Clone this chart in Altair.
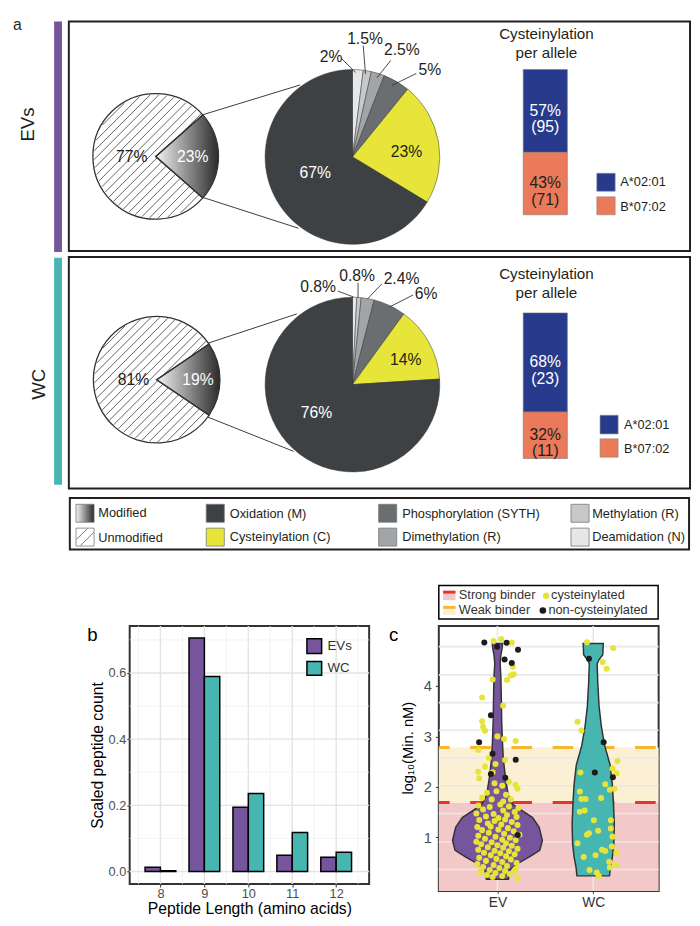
import math
import altair as alt
import pandas as pd

FONT = "Liberation Sans"
INK = "#231f20"

# ------------------------------------------------------------------ data
groups = ["EVs", "WC"]
group_colors = ["#77559c", "#47b5b0"]

modified_pct = [23, 19]
unmodified_pct = [77, 81]
part_names = ["Modified", "Unmodified"]

mod_names = ["Deamidation (N)", "Methylation (R)", "Dimethylation (R)",
             "Phosphorylation (SYTH)", "Cysteinylation (C)", "Oxidation (M)"]
mod_colors = ["#e6e7e8", "#c6c8ca", "#a2a5a8", "#6b6e71", "#e8e53a", "#3e4144"]
mod_pct_ev = [2, 1.5, 2.5, 5, 23, 67]
mod_pct_wc = [0.8, 0.8, 2.4, 6, 14, 76]

alleles = ["A*02:01", "B*07:02"]
allele_colors = ["#283a8c", "#ea7a59"]
allele_pct_ev = [57, 43]
allele_n_ev = [95, 71]
allele_pct_wc = [68, 32]
allele_n_wc = [23, 11]

lengths = [8, 9, 10, 11, 12]
scaled_ev = [0.013, 0.706, 0.194, 0.049, 0.043]
scaled_wc = [0.002, 0.589, 0.236, 0.118, 0.058]
b_y_major = [0.0, 0.2, 0.4, 0.6]
b_y_minor = [0.1, 0.3, 0.5, 0.7]
b_x_minor = [7.5, 8.5, 9.5, 10.5, 11.5, 12.5]

violin_groups = ["EV", "WC"]
binder_labels = ["Strong binder", "Weak binder"]
binder_cut = [1.69, 2.78]
binder_colors = ["#e8332f", "#f6b62d"]
band_colors = ["#f3c8c8", "#fbf0d3"]
point_labels = ["cysteinylated", "non-cysteinylated"]
point_colors = ["#e6e43a", "#1c1c1c"]
c_y_ticks = [1, 2, 3, 4]
c_grid = [0.36, 0.91, 1.47, 2.02, 2.57, 3.12, 3.67, 4.22, 4.78]

ev_violin_y = [0.168, 0.349, 0.479, 0.609, 0.739, 0.934, 1.194, 1.388, 1.518, 1.648,
               1.843, 2.168, 2.558, 2.947, 3.337, 3.726, 4.181, 4.44, 4.6, 4.733, 4.843]
ev_violin_hw = [0.115, 0.13, 0.214, 0.334, 0.442, 0.469, 0.436, 0.367, 0.265, 0.163,
                0.112, 0.085, 0.061, 0.051, 0.044, 0.041, 0.036, 0.028, 0.035, 0.048, 0.054]
wc_violin_y = [0.233, 0.414, 0.609, 0.869, 1.258, 1.648, 2.04, 2.43, 2.82, 3.2,
               3.6, 4.05, 4.44, 4.52, 4.62, 4.843]
wc_violin_hw = [0.17, 0.18, 0.2, 0.215, 0.22, 0.212, 0.2, 0.177, 0.119, 0.085,
                0.061, 0.048, 0.041, 0.06, 0.1, 0.105]

ev_non_dx = [-0.137, -0.003, 0.096, 0.215, 0.075, 0.150, -0.068, -0.191, -0.051, -0.068, 0.082, 0.191, 0.212]
ev_non_y = [4.863, 4.779, 4.857, 4.720, 4.525, 4.454, 3.421, 2.882, 2.655, 2.252, 2.180, 2.538, 1.044]
wc_non_dx = [-0.044, 0.109, 0.017, 0.205]
wc_non_y = [4.538, 2.882, 2.285, 2.188]

ev_cys_dx = [-0.04, 0.04, 0.15, 0.16, 0.14, 0.17, 0.10, -0.05, -0.16, 0.06, -0.16, -0.15, -0.13, 0.00, 0.07,
             0.19, -0.20, -0.09, 0.08, -0.13, -0.20, -0.19, -0.03, 0.05, 0.19, 0.21, -0.11, -0.01, 0.09, -0.16,
             -0.06, 0.06, 0.14, -0.02, -0.05, 0.12,
             -0.20, -0.08, 0.03, 0.12, 0.22, -0.15, 0.06, 0.18, -0.22, -0.04, 0.10, -0.12, 0.01, 0.20, -0.19,
             -0.03, 0.08, 0.15, -0.10, 0.04, 0.21, -0.21, -0.07, 0.11, -0.16, 0.01, 0.17, -0.09, 0.07, 0.23,
             -0.20, -0.02, 0.13, -0.13, 0.05, 0.19, -0.22, -0.06, 0.09, -0.17, 0.00, 0.15, -0.10, 0.06, 0.21,
             -0.20, -0.03, 0.12, -0.14, 0.03, 0.18, -0.07, 0.09, -0.19, -0.01, 0.14, -0.12, 0.05, 0.20, -0.21,
             -0.04, 0.10, -0.15, 0.02, 0.19, -0.08, 0.08, -0.18, -0.02, 0.13, -0.11, 0.05, -0.05, 0.21, 0.18]
ev_cys_y = [4.89, 4.93, 4.86, 4.38, 4.21, 4.23, 4.12, 4.13, 3.77, 3.61, 3.30, 3.19, 3.11, 3.00, 2.95,
            2.91, 2.73, 2.57, 2.53, 2.40, 2.30, 2.17, 2.07, 2.02, 2.04, 1.96, 1.88, 1.91, 1.84, 1.78,
            1.75, 1.71, 1.75, 2.45, 2.29, 2.10,
            1.63, 1.60, 1.65, 1.61, 1.58, 1.55, 1.53, 1.50, 1.47, 1.46, 1.44, 1.41, 1.38, 1.40, 1.34,
            1.32, 1.35, 1.30, 1.27, 1.25, 1.24, 1.20, 1.21, 1.18, 1.14, 1.15, 1.12, 1.09, 1.07, 1.05,
            1.03, 1.01, 0.99, 0.97, 0.95, 0.94, 0.91, 0.90, 0.88, 0.86, 0.84, 0.83, 0.80, 0.79, 0.77,
            0.75, 0.73, 0.72, 0.69, 0.68, 0.66, 0.64, 0.62, 0.59, 0.57, 0.56, 0.53, 0.51, 0.49, 0.47,
            0.45, 0.43, 0.41, 0.39, 0.37, 0.35, 0.33, 0.31, 0.29, 0.27, 0.25, 0.23, 0.21, 0.18, 0.34]

wc_cys_dx = [-0.065, 0.208, 0.099, 0.140, -0.164, -0.123, 0.253, -0.133, 0.201, 0.242, 0.126, 0.174, 0.222,
             -0.140, -0.123, -0.079, 0.082, -0.140, -0.089, 0.007, 0.184, 0.184, -0.044, -0.065, 0.051,
             0.201, -0.164, 0.195, 0.092, 0.126, 0.242, 0.024, -0.099, 0.167, 0.236, 0.174, -0.038, 0.038, 0.058]
wc_cys_y = [4.869, 4.752, 4.473, 4.343, 3.291, 3.115, 2.512, 2.285, 2.363, 2.266, 2.051, 1.940, 1.960,
            1.907, 1.759, 1.759, 1.779, 1.506, 1.531, 1.336, 1.336, 1.174, 1.077, 1.050, 1.128,
            1.011, 0.882, 0.817, 0.752, 0.726, 0.687, 0.641, 0.609, 0.512, 0.446, 0.401, 0.349, 0.297, 0.232]

# ------------------------------------------------------------------ helpers
one = pd.DataFrame({"k": [0]})
GRAD = {"gradient": "linear", "x1": 0, "y1": 0, "x2": 1, "y2": 0,
        "stops": [{"offset": 0, "color": "#f4f4f4"}, {"offset": 1, "color": "#2a2a2a"}]}


def txt(s, x, y, size=16, color=INK, align="center", baseline="middle", angle=0):
    return alt.Chart(one).mark_text(text=s, font=FONT, fontSize=size, color=color, align=align,
                                    baseline=baseline, angle=angle).encode(x=alt.value(x), y=alt.value(y))


def box(x, x2, y, y2, fill="transparent", stroke="transparent", sw=1):
    return alt.Chart(one).mark_rect(fill=fill, stroke=stroke, strokeWidth=sw).encode(
        x=alt.value(x), x2=alt.value(x2), y=alt.value(y), y2=alt.value(y2))


def seg(x, y, x2, y2, color="#3a3a3a", sw=1):
    return alt.Chart(one).mark_rule(color=color, strokeWidth=sw).encode(
        x=alt.value(x), y=alt.value(y), x2=alt.value(x2), y2=alt.value(y2))


def pct(v):
    return f"{v:g}%"


def small_pie(i, cx, cy, r):
    df = pd.DataFrame({"part": part_names, "pct": [modified_pct[i], unmodified_pct[i]], "ord": [0, 1]})
    start = math.pi / 2 - math.pi * modified_pct[i] / 100
    theta = alt.Theta("pct:Q", stack=True, scale=alt.Scale(range=[start, start + 2 * math.pi]))
    base = alt.Chart(df).encode(theta=theta, order=alt.Order("ord:Q"), x=alt.value(cx), y=alt.value(cy))
    under = base.mark_arc(radius=r, fill="white")
    hatch = (alt.Chart(alt.sequence(-(r - 3), r - 2, 6.3, as_="d"))
             .transform_calculate(h=f"sqrt({(r - 1) ** 2} - datum.d*datum.d)")
             .transform_calculate(xa=f"{cx} + (datum.d + datum.h)*0.70711",
                                  ya=f"{cy} + (datum.d - datum.h)*0.70711",
                                  xb=f"{cx} + (datum.d - datum.h)*0.70711",
                                  yb=f"{cy} + (datum.d + datum.h)*0.70711")
             .mark_rule(color="#3a3a3a", strokeWidth=0.8)
             .encode(x=alt.X("xa:Q", scale=None, axis=None), y=alt.Y("ya:Q", scale=None, axis=None),
                     x2=alt.X2("xb:Q"), y2=alt.Y2("yb:Q")))
    top = base.mark_arc(radius=r, stroke="#333333", strokeWidth=1.3).encode(
        fill=alt.condition(f"datum.part == '{part_names[0]}'", alt.value(GRAD), alt.value("transparent")))
    return [under, hatch, top]


def big_pie(vals, cx, cy, r):
    df = pd.DataFrame({"mod": mod_names, "pct": vals, "ord": list(range(len(vals)))})
    return alt.Chart(df).mark_arc(radius=r, stroke="#2f2f2f", strokeWidth=0.5).encode(
        theta=alt.Theta("pct:Q", stack=True),
        color=alt.Color("mod:N", scale=alt.Scale(domain=mod_names, range=mod_colors), legend=None),
        order=alt.Order("ord:Q"), x=alt.value(cx), y=alt.value(cy))


def allele_bar(pcts, ns, x0, x1, ybot, ytop):
    df = pd.DataFrame({"allele": alleles, "pct": pcts, "n": ns, "ord": [1, 0]})
    ysc = alt.Scale(domain=[0, 100], range=[ybot, ytop])
    stacked = (alt.Chart(df)
               .transform_window(cum="sum(pct)", sort=[alt.SortField("ord")])
               .transform_calculate(lo="datum.cum - datum.pct", mid="datum.cum - datum.pct/2")
               .transform_calculate(lbl="datum.pct + '%\\n(' + datum.n + ')'"))
    bar = stacked.mark_rect(stroke="#7a7a7a", strokeWidth=0.6).encode(
        x=alt.value(x0), x2=alt.value(x1),
        y=alt.Y("lo:Q", scale=ysc, axis=None), y2=alt.Y2("cum:Q"),
        color=alt.Color("allele:N", scale=alt.Scale(domain=alleles, range=allele_colors), legend=None))
    lab = stacked.mark_text(font=FONT, fontSize=16, lineBreak="\n", lineHeight=16.5, baseline="middle").encode(
        x=alt.value((x0 + x1) / 2), y=alt.Y("mid:Q", scale=ysc, axis=None), text="lbl:N",
        color=alt.condition(f"datum.allele == '{alleles[0]}'", alt.value("white"), alt.value(INK)))
    return [bar, lab]


# ------------------------------------------------------------------ panel a
A = [txt("a", 1, 0, size=16, align="left", baseline="top")]
A += [box(43, 51, 4, 239, fill=group_colors[0]), box(43, 51, 244.7, 476, fill=group_colors[1])]
A += [txt(groups[0], 17, 109, size=19, angle=270), txt(groups[1], 27.5, 373.7, size=19, angle=270)]
A += [box(58, 691, 4, 238, stroke=INK, sw=2), box(58, 691, 244, 480, stroke=INK, sw=2)]

# EVs row
A += [seg(193.7, 99.3, 293.7, 68.7), seg(193.7, 183, 292, 214.7)]
A += small_pie(0, 146.5, 141.5, 64)
A += [txt(pct(unmodified_pct[0]), 122, 142), txt(pct(modified_pct[0]), 184.2, 142, color="white")]
A.append(big_pie(mod_pct_ev, 347, 142, 89))
for k, (lx, ly, l1, l2, l3, l4) in enumerate([(325.3, 40, 335.3, 41.3, 350.3, 56),
                                               (359.8, 21.5, 358, 28.7, 360.3, 57.7),
                                               (397.3, 33.3, 386, 43.7, 372, 61.3),
                                               (425.8, 53.7, 412, 57, 387, 69.3)]):
    A += [seg(l1, l2, l3, l4, color="#333333", sw=0.9), txt(pct(mod_pct_ev[k]), lx, ly)]
A += [txt(pct(mod_pct_ev[4]), 402, 137), txt(pct(mod_pct_ev[5]), 309, 159, color="white")]
A += [txt("Cysteinylation", 544.7, 16.5, size=15.5), txt("per allele", 544.7, 36, size=15.5)]
A += allele_bar(allele_pct_ev, allele_n_ev, 521, 566, 201, 53)
A += [box(596, 614.7, 158.7, 177, fill=allele_colors[0], stroke="#888888", sw=0.6),
      box(596, 614.7, 182.7, 201, fill=allele_colors[1], stroke="#888888", sw=0.6),
      txt(alleles[0], 620, 168, size=13, align="left"), txt(alleles[1], 620, 193, size=13, align="left")]

# WC row
A += [seg(199.3, 332, 290.3, 302), seg(199.3, 407, 287, 442)]
A += small_pie(1, 147.5, 369, 64.5)
A += [txt(pct(unmodified_pct[1]), 123.8, 369.2), txt(pct(modified_pct[1]), 189.5, 369.2, color="white")]
A.append(big_pie(mod_pct_wc, 347, 374, 89))
for k, (lx, ly, l1, l2, l3, l4) in enumerate([(312, 274.5, 332, 278.7, 348, 284.7),
                                               (351.7, 263.7, 352.7, 270.3, 352.7, 285.3),
                                               (397, 266.2, 377, 271.3, 362, 287),
                                               (422, 282.2, 408.7, 282.7, 385.3, 294.7)]):
    A += [seg(l1, l2, l3, l4, color="#333333", sw=0.9), txt(pct(mod_pct_wc[k]), lx, ly)]
A += [txt(pct(mod_pct_wc[4]), 401.3, 349.3), txt(pct(mod_pct_wc[5]), 310.3, 402.7, color="white")]
A += [txt("Cysteinylation", 544.7, 261.3, size=15.5), txt("per allele", 544.7, 280.3, size=15.5)]
A += allele_bar(allele_pct_wc, allele_n_wc, 521, 566, 449.3, 301)
A += [box(599.3, 617.7, 405.3, 424.3, fill=allele_colors[0], stroke="#888888", sw=0.6),
      box(599.3, 617.7, 429.3, 448, fill=allele_colors[1], stroke="#888888", sw=0.6),
      txt(alleles[0], 623.7, 415.3, size=13, align="left"), txt(alleles[1], 623.7, 439.3, size=13, align="left")]

# modification legend
A.append(box(59, 690, 489.5, 542, fill="white", stroke=INK, sw=2))
col_x = [65.3, 198, 373.7, 569.7]
col_dx = [22.7, 24, 24, 21.6]
row_y = [496, 520.3]
A.append(box(col_x[0], col_x[0] + 18.4, row_y[0], row_y[0] + 18.3, fill=GRAD, stroke="#777777", sw=0.8))
A.append(box(col_x[0], col_x[0] + 18.4, row_y[1], row_y[1] + 18.3, fill="white", stroke="#777777", sw=0.8))
A += [seg(66, 531.5, 77, 520.8, color="#555555", sw=0.8), seg(70, 538, 83.2, 524.8, color="#555555", sw=0.8)]
A += [txt(part_names[0], col_x[0] + col_dx[0], row_y[0] + 9.3, size=13, align="left"),
      txt("Unmodified", col_x[0] + col_dx[0], row_y[1] + 9.8, size=13, align="left")]
legend_order = mod_names[::-1]
legend_cols = mod_colors[::-1]
for i, name in enumerate(legend_order):
    c, r = 1 + i // 2, i % 2
    A.append(box(col_x[c], col_x[c] + 18.4, row_y[r], row_y[r] + 18.3, fill=legend_cols[i], stroke="#777777", sw=0.8))
    A.append(txt(name, col_x[c] + col_dx[c], row_y[r] + 9.5, size=13, align="left"))

panel_a = alt.layer(*A).resolve_scale(x="independent", y="independent", theta="independent",
                                      color="independent").properties(width=684, height=546)

# ------------------------------------------------------------------ panel b
df_b = pd.DataFrame({"length": lengths + lengths, "group": [groups[0]] * 5 + [groups[1]] * 5,
                     "value": scaled_ev + scaled_wc})
BW = 0.35
xs_b = alt.Scale(domain=[7.30, 12.75], nice=False, zero=False)
ys_b = alt.Scale(domain=[-0.038, 0.742], nice=False, zero=False)
ax_bx = alt.Axis(values=lengths, title="Peptide Length (amino acids)", grid=False, domain=False,
                 tickSize=3, tickColor="#333333", labelFontSize=13, labelColor="#4d4d4d", labelPadding=1,
                 titleFontSize=16, titleFontWeight="normal", titleColor="black", titleY=30,
                 titleBaseline="alphabetic")
ax_by = alt.Axis(values=b_y_major, format=".1f", title="Scaled peptide count", grid=False, domain=False,
                 tickSize=3, tickColor="#333333", labelFontSize=13, labelColor="#4d4d4d", labelPadding=1,
                 titleFontSize=16, titleFontWeight="normal", titleColor="black", titleX=-33, titleY=131.5,
                 titleAngle=270, titleAlign="center", titleBaseline="middle")


def XB(f):
    return alt.X(f, scale=xs_b, axis=ax_bx)


def YB(f):
    return alt.Y(f, scale=ys_b, axis=ax_by)


B = [
    alt.Chart(pd.DataFrame({"v": b_x_minor})).mark_rule(color="#efefef", strokeWidth=0.8).encode(x=XB("v:Q")),
    alt.Chart(pd.DataFrame({"v": lengths})).mark_rule(color="#e3e3e3", strokeWidth=1.4).encode(x=XB("v:Q")),
    alt.Chart(pd.DataFrame({"v": b_y_minor})).mark_rule(color="#efefef", strokeWidth=0.8).encode(y=YB("v:Q")),
    alt.Chart(pd.DataFrame({"v": b_y_major})).mark_rule(color="#e3e3e3", strokeWidth=1.4).encode(y=YB("v:Q")),
    alt.Chart(df_b)
    .transform_calculate(x0=f"datum.length + (datum.group == '{groups[0]}' ? -{BW} : 0)")
    .transform_calculate(x1=f"datum.x0 + {BW}")
    .mark_rect(stroke="black", strokeWidth=1.5)
    .encode(x=XB("x0:Q"), x2="x1:Q", y=YB("value:Q"), y2=alt.datum(0),
            color=alt.Color("group:N", scale=alt.Scale(domain=groups, range=group_colors), legend=None)),
    box(180.6, 195.6, 13, 28, fill=group_colors[0], stroke="black", sw=1.5),
    box(180.6, 195.6, 36.3, 50.3, fill=group_colors[1], stroke="black", sw=1.5),
    txt(groups[0], 201.6, 20.7, size=13.5, color="#333333", align="left"),
    txt(groups[1], 201.6, 43.3, size=13.5, color="#333333", align="left"),
    txt("b", -38, 9, size=19, color="black"),
]
panel_b = alt.layer(*B).properties(width=244, height=263,
                                   view=alt.ViewBackground(stroke="#333333", strokeWidth=2))

# ------------------------------------------------------------------ panel c
xs_c = alt.Scale(domain=[0.388, 2.683], nice=False, zero=False)
ys_c = alt.Scale(domain=[-0.066, 5.19], nice=False, zero=False)
ax_cy = alt.Axis(values=c_y_ticks, format="d", title="log₁₀(Min.  nM)", grid=False, domain=False,
                 tickSize=3.5, tickColor="#333333", labelFontSize=15, labelColor="#4d4d4d", labelPadding=4,
                 titleFontSize=15, titleFontWeight="normal", titleColor="black", titleX=-32, titleY=124,
                 titleAngle=270, titleAlign="center", titleBaseline="middle")
ax_cx = alt.Axis(values=[1, 2], labelExpr=f"datum.value == 1 ? '{violin_groups[0]}' : '{violin_groups[1]}'",
                 title="", grid=False, domain=False, tickSize=2.5, tickColor="#333333", labelFontSize=14,
                 labelColor="#333333", labelPadding=2)


def XC(f):
    return alt.X(f, scale=xs_c, axis=ax_cx)


def YC(f):
    return alt.Y(f, scale=ys_c, axis=ax_cy)


df_v = pd.concat([
    pd.DataFrame({"grp": violin_groups[0], "cat": 1, "vy": ev_violin_y, "hw": ev_violin_hw}),
    pd.DataFrame({"grp": violin_groups[1], "cat": 2, "vy": wc_violin_y, "hw": wc_violin_hw}),
], ignore_index=True)
df_cys = pd.concat([
    pd.DataFrame({"cat": 1, "dx": ev_cys_dx, "val": ev_cys_y}),
    pd.DataFrame({"cat": 2, "dx": wc_cys_dx, "val": wc_cys_y}),
], ignore_index=True)
df_non = pd.concat([
    pd.DataFrame({"cat": 1, "dx": ev_non_dx, "val": ev_non_y}),
    pd.DataFrame({"cat": 2, "dx": wc_non_dx, "val": wc_non_y}),
], ignore_index=True)

C = [
    alt.Chart(one).mark_rect(color=band_colors[0]).encode(
        x=alt.value(0), x2=alt.value(224), y=alt.Y(datum=binder_cut[0], scale=ys_c, axis=ax_cy), y2=alt.value(270)),
    alt.Chart(one).mark_rect(color=band_colors[1]).encode(
        x=alt.value(0), x2=alt.value(224), y=alt.Y(datum=binder_cut[1], scale=ys_c, axis=ax_cy),
        y2=alt.datum(binder_cut[0])),
    alt.Chart(pd.DataFrame({"g": c_grid})).mark_rule(color="#e8e8e8", strokeWidth=1.6).encode(y=YC("g:Q")),
    alt.Chart(pd.DataFrame({"c": [1, 2]})).mark_rule(color="#e8e8e8", strokeWidth=1.6).encode(x=XC("c:Q")),
    alt.Chart(pd.DataFrame({"lab": binder_labels, "cut": binder_cut}))
    .mark_rule(strokeWidth=3, strokeDash=[21, 21], strokeDashOffset=39)
    .encode(y=YC("cut:Q"),
            color=alt.Color("lab:N", scale=alt.Scale(domain=binder_labels, range=binder_colors), legend=None)),
    alt.Chart(df_v)
    .transform_calculate(xl="datum.cat - datum.hw", xr="datum.cat + datum.hw")
    .mark_area(orient="horizontal", stroke="#333333", strokeWidth=1.5, opacity=1)
    .encode(y=YC("vy:Q"), x=XC("xl:Q"), x2="xr:Q",
            color=alt.Color("grp:N", scale=alt.Scale(domain=violin_groups, range=group_colors), legend=None)),
    alt.Chart(df_cys).transform_calculate(px="datum.cat + datum.dx")
    .mark_circle(size=38, opacity=1, color=point_colors[0])
    .encode(x=XC("px:Q"), y=YC("val:Q")),
    alt.Chart(df_non).transform_calculate(px="datum.cat + datum.dx")
    .mark_circle(size=38, opacity=1, color=point_colors[1])
    .encode(x=XC("px:Q"), y=YC("val:Q")),
    # legend
    box(0, 223.5, -41.3, -7, fill="white", stroke="black", sw=1.5),
    box(4.4, 17, -35.7, -26.3, fill=band_colors[0]),
    seg(4.4, -34.5, 17, -34.5, color=binder_colors[0], sw=3),
    box(4.4, 17, -20, -11.3, fill=band_colors[1]),
    seg(4.4, -19, 17, -19, color=binder_colors[1], sw=3),
    txt(binder_labels[0], 20.4, -31, size=13, color="#333333", align="left"),
    txt(binder_labels[1], 20.4, -15.7, size=13, color="#333333", align="left"),
    alt.Chart(one).mark_circle(size=45, opacity=1, color=point_colors[0]).encode(x=alt.value(109.4), y=alt.value(-30.7)),
    alt.Chart(one).mark_circle(size=45, opacity=1, color=point_colors[1]).encode(x=alt.value(106), y=alt.value(-15.7)),
    txt(point_labels[0], 114.4, -31, size=13, color="#333333", align="left"),
    txt(point_labels[1], 111.7, -15.7, size=13, color="#333333", align="left"),
    txt("c", -46, 9, size=19, color="black"),
]
panel_c = alt.layer(*C).resolve_scale(color="independent").properties(
    width=224, height=270, view=alt.ViewBackground(stroke="#333333", strokeWidth=2))

spacer = alt.Chart(one).mark_point(opacity=0).encode(x=alt.value(0), y=alt.value(0)).properties(width=49, height=20)

row_bc = alt.hconcat(spacer, panel_b, panel_c, spacing=71, bounds="flush")
chart = (alt.vconcat(panel_a, row_bc, spacing=74, bounds="flush")
         .properties(padding=0)
         .configure(font=FONT)
         .configure_view(stroke="transparent"))

chart.save("out.html", embed_options={"renderer": "svg", "actions": False})
